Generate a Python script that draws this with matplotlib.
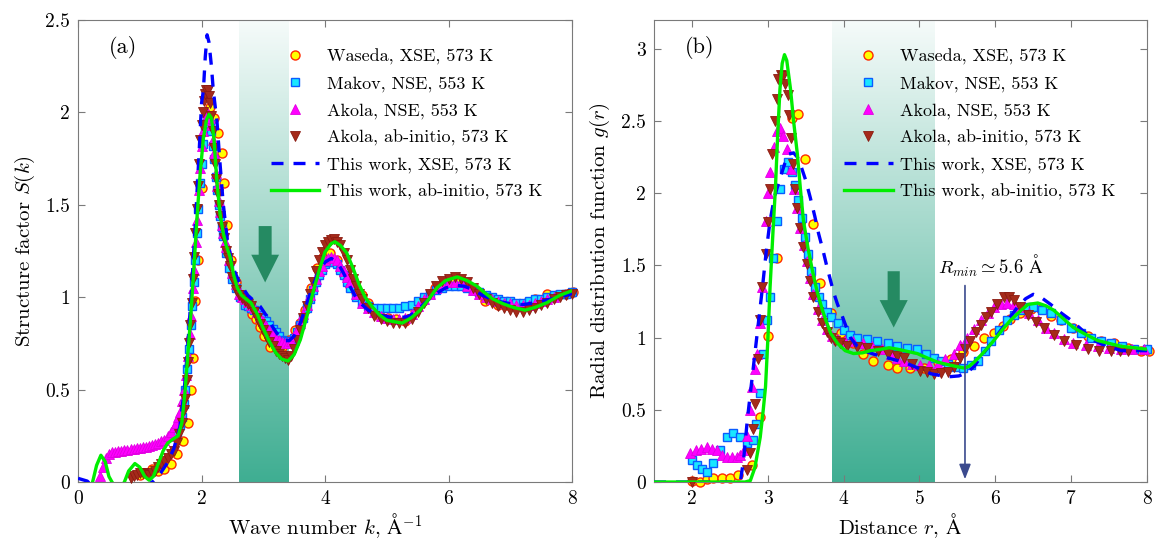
import numpy as np
import matplotlib
matplotlib.use("Agg")
import matplotlib.pyplot as plt
import matplotlib.patches as mpatches
from matplotlib.colors import LinearSegmentedColormap

plt.rcParams['font.family'] = ['cmr10', 'DejaVu Serif']
plt.rcParams['mathtext.fontset'] = 'cm'
plt.rcParams['axes.formatter.use_mathtext'] = True

AA = r'$\mathrm{Å}$'

# ---- panel (a): structure factor S(k), pairs (k, S) ----
waseda_a = [(1.0,0.04),(1.1,0.05),(1.2,0.07),(1.3,0.06),(1.4,0.07),(1.5,0.10),(1.6,0.15),(1.7,0.22),
            (1.78,0.32),(1.83,0.50),(1.86,0.67),(1.9,0.98),(1.94,1.20),(2.0,1.59),(2.07,1.93),(2.14,2.03),
            (2.2,1.97),(2.26,1.89),(2.33,1.78),(2.37,1.62),(2.41,1.39),(2.48,1.20),(2.56,1.08),(2.65,1.01),
            (2.74,0.97),(2.82,0.91),(2.88,0.88),(2.95,0.84),(3.01,0.79),(3.11,0.73),(3.24,0.72),(3.3,0.73),
            (3.41,0.77),(3.51,0.82),(3.6,0.86),(3.68,0.93),(3.78,1.05),(3.87,1.16),(3.97,1.22),(4.08,1.24),
            (4.2,1.20),(4.3,1.12),(4.4,1.06),(4.5,1.03),(4.6,1.01),(4.7,0.97),(4.8,0.93),(4.89,0.90),
            (5.02,0.89),(5.15,0.88),(5.3,0.87),(5.45,0.93),(5.59,0.98),(5.78,1.05),(5.95,1.08),(6.07,1.10),
            (6.19,1.09),(6.35,1.05),(6.47,1.03),(6.59,0.98),(6.8,0.96),(6.95,0.96),(7.1,0.95),(7.25,0.97),
            (7.4,0.99),(7.59,1.02),(7.75,1.01),(7.9,1.02),(8.02,1.03)]

makov_a = [(1.6,0.27),(1.65,0.31),(1.68,0.35),(1.71,0.42),(1.74,0.50),(1.77,0.61),(1.8,0.72),(1.83,0.85),
           (1.85,0.95),(1.88,1.08),(1.9,1.20),(1.93,1.35),(1.95,1.48),(1.98,1.62),(2.0,1.72),(2.03,1.83),
           (2.05,1.90),(2.08,1.94),(2.1,1.96),(2.13,1.94),(2.15,1.90),(2.18,1.82),(2.2,1.75),(2.23,1.65),
           (2.25,1.58),(2.28,1.50),(2.3,1.44),(2.33,1.38),(2.35,1.33),(2.4,1.24),(2.45,1.16),(2.5,1.10),
           (2.55,1.05),(2.62,1.00),(2.7,0.96),(2.75,0.95),(2.8,0.94),(2.85,0.93),(2.9,0.92),(2.95,0.905),
           (3.0,0.89),(3.05,0.87),(3.1,0.85),(3.15,0.83),(3.2,0.81),(3.25,0.79),(3.3,0.77),(3.35,0.765),
           (3.4,0.76),(3.45,0.765),(3.5,0.78),(3.55,0.81),(3.6,0.85),(3.65,0.89),(3.7,0.94),(3.75,0.99),
           (3.8,1.04),(3.85,1.08),(3.9,1.12),(3.95,1.15),(4.0,1.18),(4.05,1.19),(4.1,1.20),(4.15,1.19),
           (4.2,1.18),(4.25,1.15),(4.3,1.12),(4.35,1.08),(4.4,1.05),(4.5,1.00),(4.6,0.97),
           (4.7,0.95),(4.8,0.94),(4.9,0.94),(5.0,0.94),(5.1,0.94),(5.2,0.94),(5.3,0.95),(5.4,0.96),
           (5.5,0.98),(5.6,1.00),(5.7,1.02),(5.8,1.04),(5.9,1.05),(6.0,1.06),(6.1,1.06),(6.2,1.06),
           (6.3,1.05),(6.4,1.04),(6.5,1.03),(6.6,1.01),(6.7,1.00),(6.8,0.99),(6.9,0.98),(7.0,0.98),
           (7.1,0.97),(7.2,0.97),(7.3,0.98),(7.4,0.99),(7.5,0.99),(7.6,1.00),(7.7,1.01),(7.8,1.02),
           (7.9,1.02),(8.0,1.03)]

akola_nse_a = [(0.35,0.03),(0.4,0.08),(0.45,0.13),(0.5,0.15),(0.55,0.16),(0.6,0.165),(0.65,0.167),(0.7,0.17),
               (0.75,0.172),(0.8,0.175),(0.85,0.177),(0.9,0.18),(0.95,0.182),(1.0,0.185),(1.05,0.187),
               (1.1,0.19),(1.15,0.195),(1.2,0.20),(1.25,0.205),(1.3,0.21),(1.35,0.22),(1.4,0.23),(1.45,0.25),
               (1.5,0.27),(1.55,0.30),(1.58,0.32),(1.62,0.35),(1.65,0.38),(1.69,0.44),(1.72,0.50),(1.75,0.58),
               (1.78,0.68),(1.81,0.80),(1.83,0.90),(1.86,1.05),(1.88,1.15),(1.91,1.30),(1.93,1.42),
               (1.96,1.58),(1.98,1.70),(2.01,1.82),(2.03,1.90),(2.05,1.96),(2.07,2.00),(2.09,2.00),
               (2.11,1.99),(2.13,1.97),(2.15,1.93),(2.18,1.85),(2.2,1.78),(2.23,1.67),(2.25,1.60),
               (2.28,1.52),(2.3,1.46),(2.33,1.39),(2.35,1.35),(2.38,1.30),(2.4,1.27),(2.45,1.20),
               (2.5,1.13),(2.55,1.07),(2.6,1.02),(2.65,1.00),(2.7,0.99),(2.75,0.975),(2.8,0.96),(2.85,0.94),
               (2.9,0.92),(2.95,0.895),(3.0,0.87),(3.05,0.845),(3.1,0.82),(3.15,0.80),(3.2,0.78),(3.25,0.77),
               (3.3,0.76),(3.35,0.755),(3.4,0.75),(3.45,0.765),(3.5,0.79),(3.55,0.82),(3.6,0.86),(3.65,0.91),
               (3.7,0.96),(3.75,1.01),(3.8,1.06),(3.85,1.10),(3.9,1.14),(3.95,1.17),(4.0,1.20),(4.05,1.21),
               (4.1,1.22),(4.15,1.21),(4.2,1.20),(4.25,1.17),(4.3,1.14),(4.35,1.11),(4.4,1.08),(4.5,1.02),
               (4.6,0.97),(4.7,0.94),(4.8,0.92),(4.9,0.90),(5.0,0.89),(5.1,0.88),(5.2,0.88),(5.3,0.89),
               (5.4,0.91),(5.5,0.95),(5.6,0.99),(5.7,1.02),(5.8,1.05),(5.9,1.07),(6.0,1.08),(6.1,1.08),
               (6.2,1.08),(6.3,1.06),(6.4,1.04),(6.5,1.02),(6.6,1.00),(6.7,0.99),(6.8,0.98),(6.9,0.97),
               (7.0,0.97),(7.1,0.96),(7.2,0.96),(7.3,0.96),(7.4,0.97),(7.5,0.98),(7.6,0.99),(7.7,1.00)]

akola_ai_a = [(0.85,0.02),(0.9,0.03),(0.95,0.04),(1.0,0.05),(1.05,0.05),(1.1,0.045),(1.15,0.04),(1.2,0.05),
              (1.25,0.06),(1.3,0.08),(1.35,0.10),(1.4,0.115),(1.45,0.13),(1.5,0.15),(1.55,0.17),(1.6,0.21),
              (1.64,0.26),(1.68,0.32),(1.71,0.39),(1.73,0.45),(1.76,0.55),(1.78,0.65),(1.8,0.75),(1.82,0.85),
              (1.84,0.97),(1.86,1.10),(1.88,1.22),(1.9,1.35),(1.92,1.48),(1.94,1.60),(1.96,1.72),(1.98,1.85),
              (2.0,1.93),(2.02,2.00),(2.04,2.06),(2.06,2.10),(2.08,2.12),(2.1,2.12),(2.12,2.09),(2.14,2.05),
              (2.16,1.98),(2.18,1.90),(2.2,1.81),(2.22,1.72),(2.24,1.64),(2.26,1.56),(2.28,1.50),(2.3,1.44),
              (2.33,1.38),(2.36,1.32),(2.4,1.25),(2.43,1.21),(2.46,1.17),(2.5,1.11),(2.53,1.08),(2.56,1.04),
              (2.6,1.01),(2.65,0.995),(2.7,0.98),(2.75,0.965),(2.8,0.95),(2.85,0.92),(2.9,0.89),(2.95,0.855),
              (3.0,0.82),(3.05,0.79),(3.1,0.76),(3.15,0.735),(3.2,0.71),(3.25,0.695),(3.3,0.68),(3.35,0.67),
              (3.4,0.66),(3.45,0.68),(3.5,0.72),(3.55,0.77),(3.6,0.82),(3.65,0.885),(3.7,0.95),(3.75,1.015),
              (3.8,1.08),(3.85,1.14),(3.9,1.20),(3.95,1.245),(4.0,1.28),(4.05,1.30),(4.1,1.31),(4.15,1.315),
              (4.2,1.30),(4.25,1.28),(4.3,1.24),(4.35,1.20),(4.4,1.15),(4.45,1.10),(4.5,1.06),(4.55,1.02),
              (4.6,0.99),(4.7,0.94),(4.8,0.90),(4.9,0.88),(5.0,0.87),(5.1,0.86),(5.2,0.86),(5.3,0.86),
              (5.4,0.88),(5.5,0.92),(5.6,0.97),(5.7,1.02),(5.8,1.06),(5.9,1.09),(6.0,1.10),(6.1,1.11),
              (6.2,1.10),(6.3,1.08),(6.4,1.05),(6.5,1.02),(6.6,0.99),(6.7,0.97),(6.8,0.95),(6.9,0.94),
              (7.0,0.93),(7.1,0.92),(7.2,0.92),(7.3,0.93),(7.4,0.94),(7.5,0.96),(7.6,0.97),(7.7,0.99),
              (7.8,1.00),(7.9,1.01),(8.0,1.02)]

xse_a = [(0.0,0.02),(0.15,0.005),(0.25,-0.03),(0.5,-0.3),(0.9,-0.1),(1.1,-0.02),(1.2,0.0),(1.3,0.03),
         (1.44,0.10),(1.55,0.18),(1.65,0.30),(1.72,0.50),(1.78,0.75),(1.84,1.05),(1.9,1.40),(1.96,1.78),
         (2.0,2.05),(2.03,2.12),(2.06,2.30),(2.09,2.42),(2.12,2.38),(2.16,2.25),(2.19,2.12),(2.25,1.95),
         (2.3,1.72),(2.35,1.51),(2.42,1.30),(2.51,1.16),(2.6,1.09),(2.67,1.05),(2.75,1.01),(2.85,0.98),
         (2.95,0.95),(3.05,0.90),(3.15,0.84),(3.25,0.79),(3.35,0.765),(3.42,0.765),(3.5,0.79),(3.6,0.86),
         (3.7,0.96),(3.8,1.06),(3.9,1.14),(4.0,1.19),(4.1,1.21),(4.2,1.19),(4.3,1.13),(4.4,1.06),
         (4.5,1.00),(4.6,0.96),(4.7,0.93),(4.85,0.905),(5.0,0.895),(5.2,0.89),(5.35,0.895),(5.5,0.93),
         (5.65,0.98),(5.8,1.02),(5.95,1.05),(6.1,1.065),(6.25,1.06),(6.4,1.04),(6.55,1.01),(6.7,0.99),
         (6.85,0.975),(7.0,0.965),(7.2,0.96),(7.4,0.97),(7.6,0.985),(7.8,1.00),(8.0,1.02)]

abinit_a = [(0.22,-0.02),(0.25,0.02),(0.3,0.09),(0.37,0.145),(0.44,0.11),(0.5,0.03),(0.55,0.0),(0.65,-0.05),
            (0.75,0.0),(0.82,0.06),(0.92,0.10),(1.0,0.08),(1.08,0.03),(1.15,0.01),(1.22,0.03),(1.3,0.10),
            (1.38,0.17),(1.45,0.21),(1.55,0.235),(1.62,0.25),(1.68,0.32),(1.73,0.48),(1.78,0.70),(1.83,0.92),
            (1.88,1.18),(1.93,1.45),(1.98,1.68),(2.03,1.86),(2.08,1.96),(2.12,1.99),(2.16,1.97),(2.2,1.86),
            (2.25,1.62),(2.3,1.45),(2.35,1.35),(2.4,1.28),(2.46,1.22),(2.52,1.12),(2.58,1.05),(2.65,1.01),
            (2.72,0.99),(2.8,0.97),(2.9,0.91),(3.0,0.83),(3.1,0.76),(3.2,0.70),(3.3,0.665),(3.4,0.655),
            (3.5,0.69),(3.6,0.77),(3.7,0.89),(3.8,1.02),(3.9,1.14),(4.0,1.245),(4.1,1.29),(4.16,1.30),
            (4.25,1.28),(4.35,1.24),(4.45,1.16),(4.55,1.07),(4.65,1.00),(4.76,0.95),(4.88,0.905),(5.0,0.875),
            (5.25,0.86),(5.4,0.89),(5.54,0.93),(5.68,0.99),(5.81,1.05),(5.95,1.09),(6.14,1.11),(6.3,1.09),
            (6.46,1.06),(6.6,1.02),(6.72,0.99),(6.88,0.965),(7.05,0.945),(7.24,0.93),(7.4,0.945),(7.59,0.97),
            (7.8,1.01),(8.0,1.035)]

# ---- panel (b): radial distribution g(r), pairs (r, g) ----
waseda_b = [(2.0,0.01),(2.11,0.0),(2.2,0.02),(2.28,0.03),(2.4,0.03),(2.5,0.03),(2.61,0.05),(2.79,0.12),
            (2.9,0.45),(3.0,1.01),(3.12,1.55),(3.32,2.52),(3.4,2.55),(3.49,2.24),(3.6,1.79),(3.69,1.38),
            (3.83,1.17),(3.96,1.03),(4.13,0.96),(4.26,0.89),(4.39,0.84),(4.58,0.81),(4.71,0.79),(4.88,0.79),
            (5.06,0.79),(5.24,0.83),(5.41,0.85),(5.58,0.90),(5.72,0.94),(5.85,1.00),(5.98,1.03),(6.1,1.08),
            (6.2,1.13),(6.33,1.17),(6.47,1.20),(6.6,1.20),(6.73,1.15),(6.86,1.12),(7.03,1.07),(7.22,1.01),
            (7.39,0.98),(7.56,0.96),(7.75,0.93),(7.92,0.91),(8.02,0.91)]

makov_b = [(2.0,0.15),(2.07,0.12),(2.13,0.09),(2.2,0.07),(2.28,0.13),(2.37,0.22),(2.46,0.31),(2.54,0.34),
           (2.64,0.31),(2.73,0.27),(2.8,0.29),(2.85,0.40),(2.9,0.62),(2.94,0.89),(2.99,1.12),(3.03,1.28),
           (3.07,1.55),(3.12,1.81),(3.16,2.03),(3.21,2.17),(3.27,2.22),(3.32,2.15),(3.36,2.06),(3.4,1.95),
           (3.45,1.83),(3.49,1.70),(3.53,1.58),(3.57,1.46),(3.62,1.35),(3.67,1.28),(3.72,1.23),(3.78,1.18),
           (3.83,1.14),(3.92,1.10),(4.0,1.05),(4.09,1.02),(4.18,1.00),
           (4.31,0.99),(4.44,0.98),(4.58,0.96),(4.71,0.94),(4.84,0.93),(4.97,0.92),(5.08,0.89),(5.19,0.86),
           (5.28,0.84),(5.37,0.82),(5.48,0.80),(5.58,0.79),(5.68,0.81),(5.77,0.84),(5.86,0.91),(5.94,0.98),
           (6.05,1.05),(6.16,1.12),(6.25,1.16),(6.33,1.19),(6.42,1.21),(6.5,1.21),(6.62,1.19),(6.73,1.17),
           (6.87,1.12),(7.0,1.07),(7.13,1.03),(7.26,1.00),(7.39,0.98),(7.52,0.96),(7.67,0.94),(7.83,0.92),
           (8.0,0.92)]

akola_nse_b = [(1.98,0.20),(2.05,0.22),(2.12,0.23),(2.2,0.24),(2.27,0.23),(2.33,0.22),(2.4,0.19),(2.46,0.17),
               (2.53,0.17),(2.59,0.17),(2.64,0.19),(2.68,0.22),(2.72,0.32),(2.76,0.50),(2.79,0.66),(2.83,0.78),
               (2.86,0.89),(2.9,1.10),(2.93,1.35),(2.97,1.81),(3.0,2.00),(3.03,2.15),(3.08,2.32),(3.12,2.43),
               (3.16,2.45),(3.2,2.40),(3.25,2.31),(3.3,2.17),(3.34,2.03),(3.38,1.90),(3.43,1.76),(3.48,1.64),
               (3.52,1.53),(3.56,1.41),(3.6,1.30),(3.66,1.20),(3.72,1.12),(3.78,1.06),(3.85,1.01),(3.93,0.99),
               (4.02,0.98),(4.13,0.98),(4.25,0.96),(4.37,0.94),(4.5,0.92),(4.62,0.89),(4.7,0.86),(4.79,0.84),
               (4.9,0.82),(5.01,0.81),(5.12,0.81),(5.24,0.82),(5.33,0.85),(5.45,0.89),(5.54,0.95),(5.63,1.00),
               (5.72,1.06),(5.81,1.12),(5.9,1.17),(5.98,1.21),(6.07,1.23),(6.16,1.24),(6.25,1.23),(6.33,1.21),
               (6.45,1.17),(6.56,1.12),(6.67,1.07),(6.77,1.03),(6.9,0.99),(7.03,0.96),(7.19,0.95),(7.35,0.94),
               (7.5,0.93),(7.66,0.92),(7.8,0.92),(7.96,0.92)]

akola_ai_b = [(2.0,0.0),(2.72,0.08),(2.77,0.20),(2.8,0.37),(2.83,0.54),(2.87,0.85),(2.9,1.12),(2.93,1.35),
              (2.97,1.58),(3.0,1.80),(3.03,2.03),(3.06,2.27),(3.1,2.50),(3.12,2.65),(3.14,2.79),(3.17,2.82),
              (3.2,2.81),(3.23,2.76),(3.26,2.68),(3.28,2.54),(3.3,2.38),(3.33,2.20),(3.36,2.03),(3.39,1.90),
              (3.43,1.76),(3.47,1.63),(3.52,1.51),(3.56,1.39),(3.6,1.28),(3.66,1.18),(3.72,1.10),(3.78,1.04),
              (3.83,1.00),(3.89,0.98),(3.95,0.96),(4.05,0.94),(4.18,0.935),(4.31,0.93),(4.45,0.91),(4.58,0.89),
              (4.7,0.87),(4.79,0.86),(4.9,0.82),(5.01,0.77),(5.1,0.76),(5.19,0.75),(5.28,0.755),(5.37,0.76),
              (5.45,0.80),(5.54,0.86),(5.6,0.92),(5.67,0.98),(5.74,1.04),(5.81,1.09),(5.88,1.14),(5.94,1.18),
              (6.02,1.23),(6.11,1.28),(6.18,1.28),(6.24,1.26),(6.33,1.21),(6.43,1.16),(6.53,1.11),(6.64,1.07),
              (6.77,1.02),(6.9,0.98),(7.06,0.95),(7.22,0.92),(7.37,0.91),(7.52,0.91),(7.64,0.91),(7.75,0.91)]

xse_b = [(1.5,0.0),(2.55,0.0),(2.64,0.01),(2.68,0.15),(2.73,0.43),(2.78,0.66),(2.83,0.89),(2.88,1.12),
         (2.93,1.35),(2.98,1.60),(3.03,1.81),(3.09,1.98),(3.16,2.10),(3.22,2.20),(3.27,2.27),(3.34,2.28),
         (3.39,2.25),(3.43,2.20),(3.5,2.09),(3.56,1.97),(3.62,1.84),(3.67,1.72),(3.73,1.60),(3.78,1.49),
         (3.83,1.39),(3.87,1.31),(3.92,1.23),(3.96,1.18),(4.03,1.08),(4.09,1.00),(4.18,0.94),(4.26,0.91),
         (4.4,0.885),(4.58,0.86),(4.72,0.84),(4.84,0.82),(5.0,0.785),(5.15,0.75),(5.3,0.735),(5.41,0.73),
         (5.52,0.735),(5.63,0.76),(5.72,0.80),(5.8,0.86),(5.93,0.95),(6.07,1.05),(6.18,1.13),(6.29,1.21),
         (6.4,1.27),(6.5,1.30),(6.6,1.28),(6.73,1.23),(6.87,1.17),(7.0,1.12),(7.15,1.05),(7.3,0.98),
         (7.48,0.94),(7.66,0.91),(7.85,0.91),(8.0,0.91)]

abinit_b = [(1.5,0.0),(2.7,0.0),(2.77,0.01),(2.83,0.10),(2.9,0.31),(2.94,0.50),(2.97,0.66),(3.0,0.98),
            (3.03,1.35),(3.07,1.75),(3.1,2.03),(3.13,2.40),(3.16,2.72),(3.19,2.90),(3.22,2.96),(3.25,2.92),
            (3.3,2.72),(3.34,2.50),(3.39,2.27),(3.43,2.03),(3.47,1.81),(3.53,1.62),(3.59,1.46),(3.65,1.32),
            (3.72,1.19),(3.78,1.10),(3.83,1.03),(3.92,0.96),(4.02,0.91),(4.13,0.89),(4.25,0.895),(4.35,0.91),
            (4.5,0.92),(4.6,0.93),(4.71,0.92),(4.84,0.905),(4.97,0.89),(5.1,0.86),(5.24,0.83),(5.4,0.81),
            (5.58,0.79),(5.65,0.80),(5.72,0.83),(5.85,0.90),(5.98,0.98),(6.1,1.06),(6.2,1.12),(6.32,1.18),
            (6.43,1.23),(6.56,1.24),(6.67,1.22),(6.77,1.19),(6.9,1.13),(7.03,1.07),(7.2,1.02),(7.35,0.98),
            (7.5,0.96),(7.66,0.94),(7.83,0.93),(8.0,0.92)]

labels = ['Waseda, XSE, 573 K', 'Makov, NSE, 553 K', 'Akola, NSE, 553 K',
          'Akola, ab-initio, 573 K', 'This work, XSE, 573 K', 'This work, ab-initio, 573 K']

band_a = (2.6, 3.4)
band_b = (3.85, 5.2)
r_min = 5.6

band_cmap = LinearSegmentedColormap.from_list('band', ['#3fae92', '#f6fbfa'])
arrow_green = '#258a62'
gray = '#7a7a7a'


def xy(pairs):
    a = np.array(pairs)
    return a[:, 0], a[:, 1]


def draw_panel(ax, data, band, ytop):
    # shaded band with vertical gradient
    grad = np.linspace(0, 1, 256).reshape(-1, 1)
    ax.imshow(grad, extent=[band[0], band[1], 0, ytop], origin='lower', aspect='auto',
              cmap=band_cmap, zorder=0)
    w, m, an, ai, xse, abi = data
    x, y = xy(w)
    ax.plot(x, y, 'o', ms=6.5, mfc='#ffff00', mec='#ff2a00', mew=1.0, clip_on=False, label=labels[0], zorder=2)
    x, y = xy(m)
    ax.plot(x, y, 's', ms=6, mfc='#19e6ff', mec='#0a5cff', mew=1.0, clip_on=False, label=labels[1], zorder=3)
    x, y = xy(an)
    ax.plot(x, y, '^', ms=6.5, mfc='#ff00ff', mec='#e000e0', mew=0.6, clip_on=False, label=labels[2], zorder=4)
    x, y = xy(ai)
    ax.plot(x, y, 'v', ms=6.5, mfc='#a52a1a', mec='#8b1a10', mew=0.6, clip_on=False, label=labels[3], zorder=5)
    x, y = xy(xse)
    ax.plot(x, y, color='#0000ff', lw=2.4, ls=(0, (3.6, 3.0)), label=labels[4], zorder=6)
    x, y = xy(abi)
    ax.plot(x, y, color='#00ee00', lw=2.4, label=labels[5], zorder=7)

    ax.set_ylim(0, ytop)
    for s in ax.spines.values():
        s.set_color(gray)
    ax.tick_params(direction='in', top=True, right=True, length=5, color=gray,
                   labelsize=14, labelcolor='black', pad=6)


fig = plt.figure(figsize=(11.58, 5.41), dpi=100)
ax1 = fig.add_axes([0.0674, 0.109, 0.4266, 0.854])
ax2 = fig.add_axes([0.5648, 0.109, 0.4257, 0.854])

draw_panel(ax1, [waseda_a, makov_a, akola_nse_a, akola_ai_a, xse_a, abinit_a], band_a, 2.5)
ax1.set_xlim(0, 8)
ax1.set_xticks([0, 2, 4, 6, 8], ['0', '2', '4', '6', '8'])
ax1.set_yticks([0, 0.5, 1, 1.5, 2, 2.5], ['0', '0.5', '1', '1.5', '2', '2.5'])
ax1.set_xlabel(r'Wave number $k$, ' + AA + r'$^{-1}$', fontsize=15, labelpad=2)
ax1.set_ylabel(r'Structure factor $S(k)$', fontsize=15, labelpad=6)
ax1.text(0.09, 0.94, '(a)', transform=ax1.transAxes, fontsize=16, ha='center', va='center')
ax1.add_patch(mpatches.FancyArrow(3.03, 1.385, 0, -0.305, width=0.21, head_width=0.45,
                                  head_length=0.15, length_includes_head=True,
                                  color=arrow_green, lw=0, zorder=8))

draw_panel(ax2, [waseda_b, makov_b, akola_nse_b, akola_ai_b, xse_b, abinit_b], band_b, 3.2)
ax2.set_xlim(1.5, 8)
ax2.set_xticks([2, 3, 4, 5, 6, 7, 8], ['2', '3', '4', '5', '6', '7', '8'])
ax2.set_yticks([0, 0.5, 1, 1.5, 2, 2.5, 3], ['0', '0.5', '1', '1.5', '2', '2.5', '3'])
ax2.set_xlabel(r'Distance $r$, ' + AA, fontsize=15, labelpad=2)
ax2.set_ylabel(r'Radial distribution function $g(r)$', fontsize=15, labelpad=6)
ax2.text(0.093, 0.94, '(b)', transform=ax2.transAxes, fontsize=16, ha='center', va='center')
ax2.add_patch(mpatches.FancyArrow(4.66, 1.46, 0, -0.39, width=0.16, head_width=0.37,
                                  head_length=0.19, length_includes_head=True,
                                  color=arrow_green, lw=0, zorder=8))
ax2.annotate('', xy=(r_min, 0.0), xytext=(r_min, 1.38),
             arrowprops=dict(arrowstyle='-|>,head_length=0.9,head_width=0.35', color='#3b4a8e', lw=1.2),
             zorder=9)
ax2.text(5.25, 1.5, r'$R_{min} \simeq 5.6$ ' + AA, fontsize=13.5, ha='left', va='center', zorder=9)

for ax, xa in ((ax1, 0.39), (ax2, 0.385)):
    ax.legend(loc='upper left', bbox_to_anchor=(xa, 0.938), frameon=False, fontsize=13,
              handlelength=2.7, handletextpad=0.4, labelspacing=0.6, borderpad=0, borderaxespad=0)

fig.savefig('out.png', dpi=100)
